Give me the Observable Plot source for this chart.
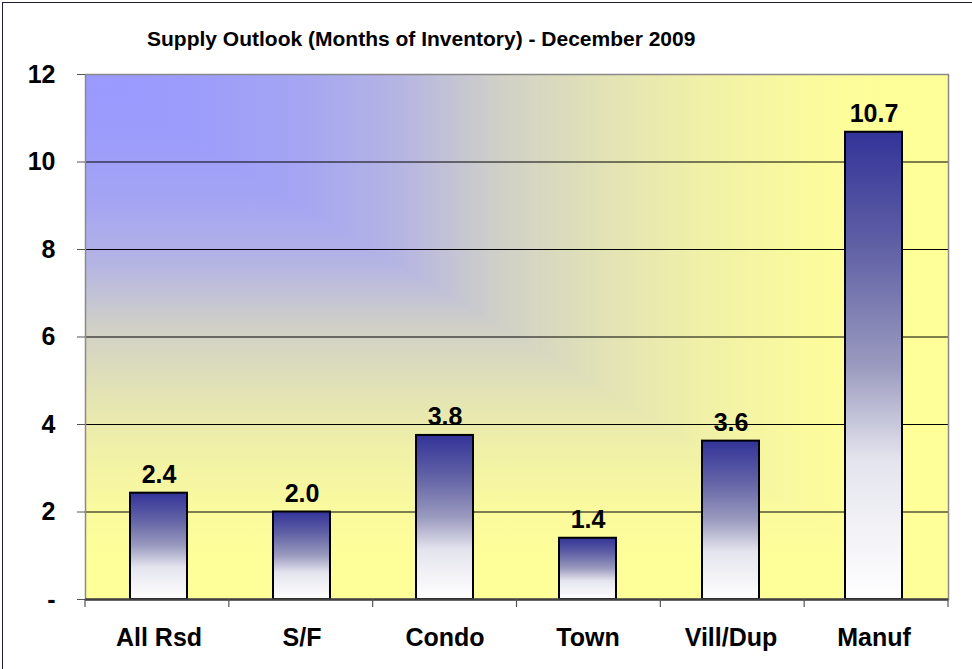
<!DOCTYPE html>
<html>
<head>
<meta charset="utf-8">
<script src="https://cdn.jsdelivr.net/npm/d3@7"></script>
<script src="https://cdn.jsdelivr.net/npm/@observablehq/plot@0.6"></script>
<style>
  html, body { margin: 0; padding: 0; background: #fff; }
  #wrap { position: relative; width: 972px; height: 669px; overflow: hidden; font-family: "Liberation Sans", Arial, sans-serif; }
  #border { position: absolute; left: 2px; top: 2px; width: 1000px; height: 700px; border: 1.5px solid #1e1e30; box-sizing: border-box; pointer-events: none; }
  #title { position: absolute; left: 147px; top: 28px; font-size: 21px; line-height: 21px; font-weight: bold; color: #000; white-space: nowrap; }
  #chart { position: absolute; left: 0; top: 0; }
</style>
</head>
<body>
<div id="wrap">
  <div id="chart"></div>
  <div id="title">Supply Outlook (Months of Inventory) - December 2009</div>
  <div id="border"></div>
</div>
<script>
const categories = ["All Rsd", "S/F", "Condo", "Town", "Vill/Dup", "Manuf"];
const values = [2.43, 2.0, 3.75, 1.4, 3.62, 10.68];
const valueLabels = ["2.4", "2.0", "3.8", "1.4", "3.6", "10.7"];
const yTicks = [0, 2, 4, 6, 8, 10, 12];
const gridTicks = [2, 4, 6, 8, 10];

const data = categories.map((c, i) => ({cat: c, value: values[i], label: valueLabels[i]}));

// background blend (offset along the corner gradient -> share of yellow)
const bgBlend = [[0, 0], [0.12, 0.03], [0.25, 0.12], [0.365, 0.27], [0.48, 0.54], [0.6, 0.72], [0.71, 0.85], [0.83, 0.95], [0.93, 1], [1, 1]];
const mixBg = d3.interpolateRgb("#9999ff", "#ffff99");
const barStops = [[0, "#333399"], [0.25, "#6161a6"], [0.5, "#9a9abf"], [0.7, "#e4e4ee"], [1, "#ffffff"]];

function background(index, scales, vals, dims) {
  const {width, height, marginLeft, marginRight, marginTop, marginBottom} = dims;
  const x0 = marginLeft, x1 = width - marginRight, y0 = marginTop, y1 = height - marginBottom;
  const g = d3.create("svg:g");
  const defs = g.append("defs");
  const addStops = (grad, stops) => stops.forEach(([o, c]) => grad.append("stop").attr("offset", o).attr("stop-color", c));
  const bgStops = bgBlend.map(([o, f]) => [o, mixBg(f)]);
  addStops(defs.append("linearGradient").attr("id", "bgH").attr("gradientUnits", "userSpaceOnUse")
    .attr("x1", x0).attr("y1", y0).attr("x2", x1).attr("y2", y0), bgStops);
  addStops(defs.append("linearGradient").attr("id", "bgV").attr("gradientUnits", "userSpaceOnUse")
    .attr("x1", x0).attr("y1", y0).attr("x2", x0).attr("y2", y1), bgStops);
  addStops(defs.append("linearGradient").attr("id", "barGrad")
    .attr("x1", 0).attr("y1", 0).attr("x2", 0).attr("y2", 1), barStops);
  g.append("rect").attr("x", x0).attr("y", y0).attr("width", x1 - x0).attr("height", y1 - y0).attr("fill", "url(#bgV)");
  g.append("path").attr("d", `M${x0},${y0}L${x1},${y0}L${x1},${y1}Z`).attr("fill", "url(#bgH)");
  return g.node();
}

function bandTicks(index, scales, vals, dims) {
  const {width, height, marginLeft, marginRight, marginBottom} = dims;
  const x0 = marginLeft, x1 = width - marginRight, yb = height - marginBottom;
  const step = (x1 - x0) / categories.length;
  const g = d3.create("svg:g").attr("stroke", "#555").attr("stroke-width", 1.2);
  for (let i = 0; i <= categories.length; i++) {
    const x = x0 + i * step;
    g.append("line").attr("x1", x).attr("x2", x).attr("y1", yb).attr("y2", yb + 8);
  }
  return g.node();
}

const plot = Plot.plot({
  width: 972,
  height: 669,
  marginTop: 74,
  marginRight: 24,
  marginBottom: 70,
  marginLeft: 85,
  style: {background: "transparent", fontFamily: "'Liberation Sans', Arial, sans-serif", color: "#000"},
  x: {domain: categories, paddingInner: 0.6, paddingOuter: 0.3, align: 0.5, label: null},
  y: {domain: [0, 12], label: null},
  marks: [
    background,
    Plot.gridY(gridTicks, {stroke: "#000", strokeOpacity: 1, strokeWidth: 1}),
    Plot.frame({stroke: "#8a8a8a", strokeWidth: 1.5}),
    Plot.barY(data, {x: "cat", y: "value", fill: "url(#barGrad)", stroke: "#000", strokeWidth: 2}),
    Plot.ruleY([0], {stroke: "#404040", strokeWidth: 2.5}),
    Plot.text(data, {x: "cat", y: "value", text: "label", lineAnchor: "bottom", dy: -10, fontSize: 25, fontWeight: "bold", fill: "#000"}),
    Plot.axisY({ticks: yTicks, tickFormat: d => d === 0 ? "-" : String(d), tickSize: 8, tickPadding: 22, fontSize: 25, fontWeight: "bold", stroke: "#555", label: null}),
    Plot.axisX({tickSize: 0, tickPadding: 29, fontSize: 25, fontWeight: "bold", label: null}),
    bandTicks
  ]
});
document.getElementById("chart").appendChild(plot);
</script>
</body>
</html>
